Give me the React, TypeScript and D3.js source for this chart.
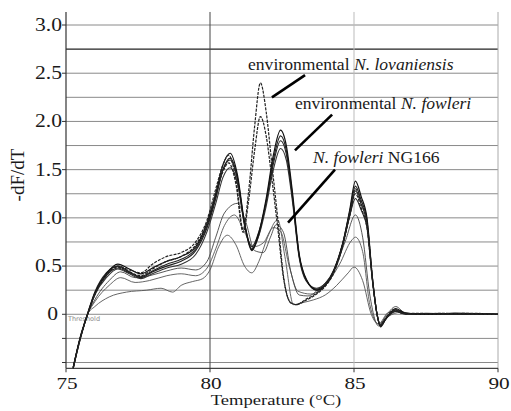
import React from "react";
import * as d3 from "d3";

const W = 511;
const H = 411;

const xTicks = [75, 80, 85, 90];
const yTickLabels = ["3.0", "2.5", "2.0", "1.5", "1.0", "0.5", "0"];
const yTickValues = [3.0, 2.5, 2.0, 1.5, 1.0, 0.5, 0];
const yMinorTicks = [-0.25, -0.5];
const gridValues = [-0.5, -0.25, 0, 0.25, 0.5, 0.75, 1.0, 1.25, 1.5, 1.75, 2.0, 2.25, 2.5, 2.75, 3.0];

type P = [number, number];

const lovaniensisA: P[] = [
  [75.25, -0.56], [75.5, -0.25], [75.75, 0.0], [76.0, 0.2], [76.4, 0.4], [76.8, 0.5], [77.2, 0.46], [77.6, 0.43],
  [78.0, 0.52], [78.5, 0.6], [79.0, 0.64], [79.5, 0.75], [79.9, 0.98], [80.2, 1.3], [80.45, 1.55], [80.65, 1.65],
  [80.9, 1.4], [81.15, 0.88], [81.35, 1.3], [81.55, 1.95], [81.75, 2.4], [81.95, 2.1], [82.15, 1.55], [82.35, 1.0],
  [82.55, 0.4], [82.8, 0.12], [83.0, 0.1], [83.3, 0.15], [83.7, 0.22], [84.0, 0.3], [84.3, 0.45], [84.6, 0.72],
  [84.85, 1.05], [85.05, 1.3], [85.25, 1.15], [85.45, 0.95], [85.65, 0.35], [85.8, 0.0], [85.92, -0.12],
  [86.1, -0.05], [86.4, 0.04], [86.7, 0.01], [87.2, 0.0], [88.0, 0.01], [89.0, 0.0], [90.0, 0.0],
];

const lovaniensisB: P[] = [
  [75.25, -0.55], [75.5, -0.24], [75.75, 0.0], [76.0, 0.21], [76.4, 0.41], [76.8, 0.49], [77.2, 0.44], [77.6, 0.4],
  [78.0, 0.47], [78.5, 0.55], [79.0, 0.6], [79.5, 0.72], [79.9, 0.95], [80.2, 1.25], [80.45, 1.48], [80.65, 1.57],
  [80.9, 1.35], [81.15, 0.85], [81.35, 1.2], [81.55, 1.7], [81.75, 2.05], [81.95, 1.85], [82.15, 1.4], [82.35, 0.9],
  [82.55, 0.38], [82.8, 0.12], [83.0, 0.1], [83.3, 0.14], [83.7, 0.21], [84.0, 0.29], [84.3, 0.43], [84.6, 0.7],
  [84.85, 1.02], [85.05, 1.25], [85.25, 1.1], [85.45, 0.9], [85.65, 0.33], [85.8, 0.0], [85.92, -0.11],
  [86.1, -0.04], [86.4, 0.05], [86.7, 0.01], [87.2, 0.01], [88.0, 0.0], [89.0, 0.01], [90.0, 0.0],
];

const fowleriA: P[] = [
  [75.25, -0.56], [75.5, -0.24], [75.75, 0.0], [76.0, 0.22], [76.4, 0.42], [76.8, 0.52], [77.2, 0.47], [77.6, 0.42],
  [78.0, 0.48], [78.5, 0.55], [79.0, 0.6], [79.5, 0.7], [79.9, 0.95], [80.2, 1.25], [80.45, 1.55], [80.7, 1.67],
  [80.95, 1.45], [81.2, 0.95], [81.45, 0.67], [81.7, 0.85], [81.95, 1.2], [82.2, 1.65], [82.45, 1.91], [82.65, 1.75],
  [82.85, 1.3], [83.1, 0.62], [83.35, 0.36], [83.7, 0.25], [84.0, 0.3], [84.3, 0.45], [84.6, 0.72], [84.85, 1.08],
  [85.05, 1.38], [85.25, 1.22], [85.45, 1.0], [85.65, 0.35], [85.8, 0.0], [85.92, -0.13], [86.1, -0.05],
  [86.45, 0.06], [86.8, 0.01], [87.5, 0.0], [88.5, 0.01], [90.0, 0.0],
];

const fowleriB: P[] = [
  [75.25, -0.55], [75.5, -0.23], [75.75, 0.01], [76.0, 0.23], [76.4, 0.43], [76.8, 0.5], [77.2, 0.44], [77.6, 0.38],
  [78.0, 0.44], [78.5, 0.5], [79.0, 0.55], [79.5, 0.66], [79.9, 0.9], [80.2, 1.2], [80.45, 1.5], [80.7, 1.62],
  [80.95, 1.42], [81.2, 0.93], [81.45, 0.66], [81.7, 0.83], [81.95, 1.17], [82.2, 1.6], [82.45, 1.85], [82.65, 1.7],
  [82.85, 1.26], [83.1, 0.6], [83.35, 0.35], [83.7, 0.26], [84.0, 0.31], [84.3, 0.46], [84.6, 0.73], [84.85, 1.06],
  [85.05, 1.33], [85.25, 1.18], [85.45, 0.97], [85.65, 0.34], [85.8, 0.0], [85.92, -0.12], [86.1, -0.05],
  [86.45, 0.03], [86.8, 0.0], [87.5, 0.01], [88.5, 0.0], [90.0, 0.0],
];

const fowleriC: P[] = [
  [75.25, -0.56], [75.5, -0.25], [75.75, 0.0], [76.0, 0.2], [76.4, 0.38], [76.8, 0.47], [77.2, 0.42], [77.6, 0.37],
  [78.0, 0.42], [78.5, 0.48], [79.0, 0.52], [79.5, 0.62], [79.9, 0.86], [80.2, 1.15], [80.45, 1.42], [80.7, 1.52],
  [80.95, 1.36], [81.2, 0.92], [81.45, 0.68], [81.7, 0.82], [81.95, 1.12], [82.2, 1.5], [82.45, 1.72], [82.65, 1.6],
  [82.85, 1.2], [83.1, 0.58], [83.35, 0.34], [83.7, 0.27], [84.0, 0.32], [84.3, 0.46], [84.6, 0.72], [84.85, 1.02],
  [85.05, 1.28], [85.25, 1.14], [85.45, 0.94], [85.65, 0.33], [85.8, 0.0], [85.92, -0.11], [86.1, -0.04],
  [86.45, 0.04], [86.8, 0.01], [87.5, 0.0], [88.5, 0.01], [90.0, 0.0],
];

const fowleriD: P[] = [
  [75.25, -0.55], [75.5, -0.24], [75.75, 0.0], [76.0, 0.21], [76.4, 0.4], [76.8, 0.48], [77.2, 0.43], [77.6, 0.39],
  [78.0, 0.45], [78.5, 0.52], [79.0, 0.57], [79.5, 0.68], [79.9, 0.92], [80.2, 1.22], [80.45, 1.5], [80.7, 1.6],
  [80.95, 1.4], [81.2, 0.94], [81.45, 0.7], [81.7, 0.86], [81.95, 1.16], [82.2, 1.56], [82.45, 1.8], [82.65, 1.66],
  [82.85, 1.24], [83.1, 0.6], [83.35, 0.35], [83.7, 0.25], [84.0, 0.3], [84.3, 0.44], [84.6, 0.7], [84.85, 1.02],
  [85.05, 1.2], [85.25, 1.08], [85.45, 0.9], [85.65, 0.32], [85.8, 0.0], [85.92, -0.12], [86.1, -0.05],
  [86.45, 0.05], [86.8, 0.01], [87.5, 0.0], [88.5, 0.0], [90.0, 0.0],
];

const ng166A: P[] = [
  [75.25, -0.55], [75.5, -0.24], [75.75, 0.0], [76.0, 0.15], [76.5, 0.35], [76.9, 0.44], [77.4, 0.38], [77.9, 0.4],
  [78.5, 0.45], [79.0, 0.48], [79.5, 0.46], [79.9, 0.55], [80.2, 0.8], [80.5, 1.05], [80.95, 1.15], [81.25, 0.95],
  [81.55, 0.66], [81.85, 0.64], [82.1, 0.8], [82.3, 0.93], [82.55, 0.85], [82.8, 0.45], [83.1, 0.2], [83.4, 0.19],
  [83.8, 0.27], [84.3, 0.45], [84.7, 0.76], [85.05, 1.03], [85.3, 0.8], [85.55, 0.2], [85.85, -0.12],
  [86.1, -0.02], [86.45, 0.08], [86.8, 0.01], [87.5, 0.0], [88.5, 0.01], [90.0, 0.0],
];

const ng166B: P[] = [
  [75.25, -0.55], [75.5, -0.24], [75.75, 0.0], [76.0, 0.13], [76.5, 0.3], [76.9, 0.38], [77.4, 0.33], [77.9, 0.35],
  [78.5, 0.4], [79.0, 0.42], [79.5, 0.4], [79.9, 0.48], [80.2, 0.68], [80.5, 0.92], [80.85, 1.03], [81.2, 0.85],
  [81.5, 0.7], [81.85, 0.74], [82.2, 0.9], [82.45, 0.86], [82.75, 0.5], [83.05, 0.24], [83.5, 0.21], [84.0, 0.3],
  [84.5, 0.52], [84.9, 0.76], [85.05, 0.8], [85.3, 0.65], [85.55, 0.1], [85.85, -0.1], [86.2, 0.02],
  [86.6, 0.03], [87.0, 0.0], [88.0, 0.01], [89.0, 0.0], [90.0, 0.0],
];

const ng166C: P[] = [
  [75.25, -0.56], [75.5, -0.25], [75.75, 0.0], [76.0, 0.08], [76.5, 0.18], [77.1, 0.23], [77.8, 0.25], [78.3, 0.27],
  [78.7, 0.23], [79.0, 0.3], [79.4, 0.34], [79.75, 0.37], [80.0, 0.46], [80.3, 0.7], [80.6, 0.82], [80.9, 0.72],
  [81.2, 0.5], [81.45, 0.43], [81.7, 0.55], [82.0, 0.8], [82.35, 0.98], [82.6, 0.6], [82.9, 0.1], [83.2, 0.12],
  [83.6, 0.15], [84.0, 0.2], [84.4, 0.3], [84.8, 0.43], [85.0, 0.49], [85.3, 0.35], [85.6, 0.0], [85.85, -0.1],
  [86.2, -0.02], [86.6, 0.02], [87.2, 0.0], [88.5, 0.0], [90.0, 0.0],
];

const curves: { data: P[]; color: string; width: number; dash?: string }[] = [
  { data: ng166C, color: "#555", width: 0.9 },
  { data: ng166B, color: "#555", width: 0.9 },
  { data: ng166A, color: "#444", width: 0.9 },
  { data: fowleriC, color: "#333", width: 1.1 },
  { data: fowleriD, color: "#222", width: 1.1 },
  { data: fowleriB, color: "#222", width: 1.2 },
  { data: fowleriA, color: "#111", width: 1.2 },
  { data: lovaniensisB, color: "#222", width: 1.2, dash: "3,1.2" },
  { data: lovaniensisA, color: "#222", width: 1.2, dash: "3,1.2" },
];

const annotationLabels = [
  { plain: "environmental ", italic: "N. lovaniensis", suffix: "", t: 81.32, v: 2.53 },
  { plain: "environmental ", italic: "N. fowleri", suffix: "", t: 82.95, v: 2.13 },
  { plain: "", italic: "N. fowleri", suffix: " NG166", t: 83.58, v: 1.57 },
];
const leaderLines: [number, number, number, number][] = [
  [83.3, 2.48, 82.15, 2.25],
  [84.24, 2.07, 82.95, 1.7],
  [84.34, 1.5, 82.71, 0.95],
];

const serif = "'Liberation Serif', 'Times New Roman', serif";

function WideText(props: {
  x: number;
  y: number;
  size: number;
  sx: number;
  anchor?: string;
  children: React.ReactNode;
}) {
  return (
    <text
      transform={`translate(${props.x},${props.y}) scale(${props.sx},1)`}
      textAnchor={props.anchor || "start"}
      fontFamily={serif}
      fontSize={props.size}
      fill="#1a1a1a"
    >
      {props.children}
    </text>
  );
}

export default function App() {
  const x = d3.scaleLinear().domain([75, 90]).range([66, 498]);
  const y = d3.scaleLinear().domain([-0.5, 3.0]).range([362.5, 25]);
  const yTop = y(3.135);
  const yBottom = y(-0.56);
  const line = d3
    .line<P>()
    .x((d) => x(d[0]))
    .y((d) => y(d[1]))
    .curve(d3.curveMonotoneX);

  return (
    <svg
      width={W}
      height={H}
      style={{ position: "absolute", left: 0, top: 0, display: "block", background: "#fff" }}
    >
      <rect x={0} y={0} width={W} height={H} fill="#fff" />
      {gridValues.map((g) => (
        <line
          key={"g" + g}
          x1={x(75)}
          x2={x(90)}
          y1={y(g)}
          y2={y(g)}
          stroke={g === 2.75 ? "#222" : "#8a8a8a"}
          strokeWidth={g === 2.75 ? 1.3 : 1}
        />
      ))}
      <line x1={x(80)} x2={x(80)} y1={yTop} y2={yBottom} stroke="#444" strokeWidth={1} />
      <line x1={x(85)} x2={x(85)} y1={yTop} y2={yBottom} stroke="#bbb" strokeWidth={1} />
      <line x1={x(90)} x2={x(90)} y1={yTop} y2={yBottom} stroke="#aaa" strokeWidth={1} />
      <line x1={x(75)} x2={x(75)} y1={yTop} y2={yBottom} stroke="#333" strokeWidth={1.2} />
      <line x1={x(75)} x2={x(90)} y1={yBottom} y2={yBottom} stroke="#444" strokeWidth={1.2} />
      {yTickValues.concat(yMinorTicks).map((v) => (
        <line key={"yt" + v} x1={x(75) - 4} x2={x(75)} y1={y(v)} y2={y(v)} stroke="#333" strokeWidth={1} />
      ))}
      {xTicks.map((t) => (
        <line key={"xt" + t} x1={x(t)} x2={x(t)} y1={yBottom} y2={yBottom + 4} stroke="#333" strokeWidth={1} />
      ))}
      {yTickValues.map((v, i) => (
        <WideText key={"yl" + v} x={v === 0 ? x(75) - 8 : x(75) - 4} y={y(v) + 6} size={18} sx={1.2} anchor="end">
          {yTickLabels[i]}
        </WideText>
      ))}
      {xTicks.map((t) => (
        <WideText key={"xl" + t} x={x(t) + 1} y={389} size={17} sx={1.25} anchor="middle">
          {t}
        </WideText>
      ))}
      <WideText x={276} y={405} size={15.5} sx={1.2} anchor="middle">
        Temperature (°C)
      </WideText>
      <text
        transform={`translate(24,175) rotate(-90)`}
        textAnchor="middle"
        fontFamily={serif}
        fontSize={19}
        fill="#1a1a1a"
      >
        -dF/dT
      </text>
      <text x={x(75) + 2} y={y(0) + 7} fontFamily="'DejaVu Sans', sans-serif" fontSize={6.5} fill="#888">
        Threshold
      </text>
      {curves.map((c, i) => (
        <path
          key={"c" + i}
          d={line(c.data) || ""}
          fill="none"
          stroke={c.color}
          strokeWidth={c.width}
          strokeDasharray={c.dash}
          strokeLinejoin="round"
        />
      ))}
      {leaderLines.map((l, i) => (
        <line
          key={"ll" + i}
          x1={x(l[0])}
          y1={y(l[1])}
          x2={x(l[2])}
          y2={y(l[3])}
          stroke="#000"
          strokeWidth={2.6}
        />
      ))}
      {annotationLabels.map((a, i) => (
        <WideText key={"al" + i} x={x(a.t)} y={y(a.v)} size={16} sx={1.1}>
          {a.plain && <tspan>{a.plain}</tspan>}
          <tspan fontStyle="italic">{a.italic}</tspan>
          {a.suffix && <tspan>{a.suffix}</tspan>}
        </WideText>
      ))}
    </svg>
  );
}
